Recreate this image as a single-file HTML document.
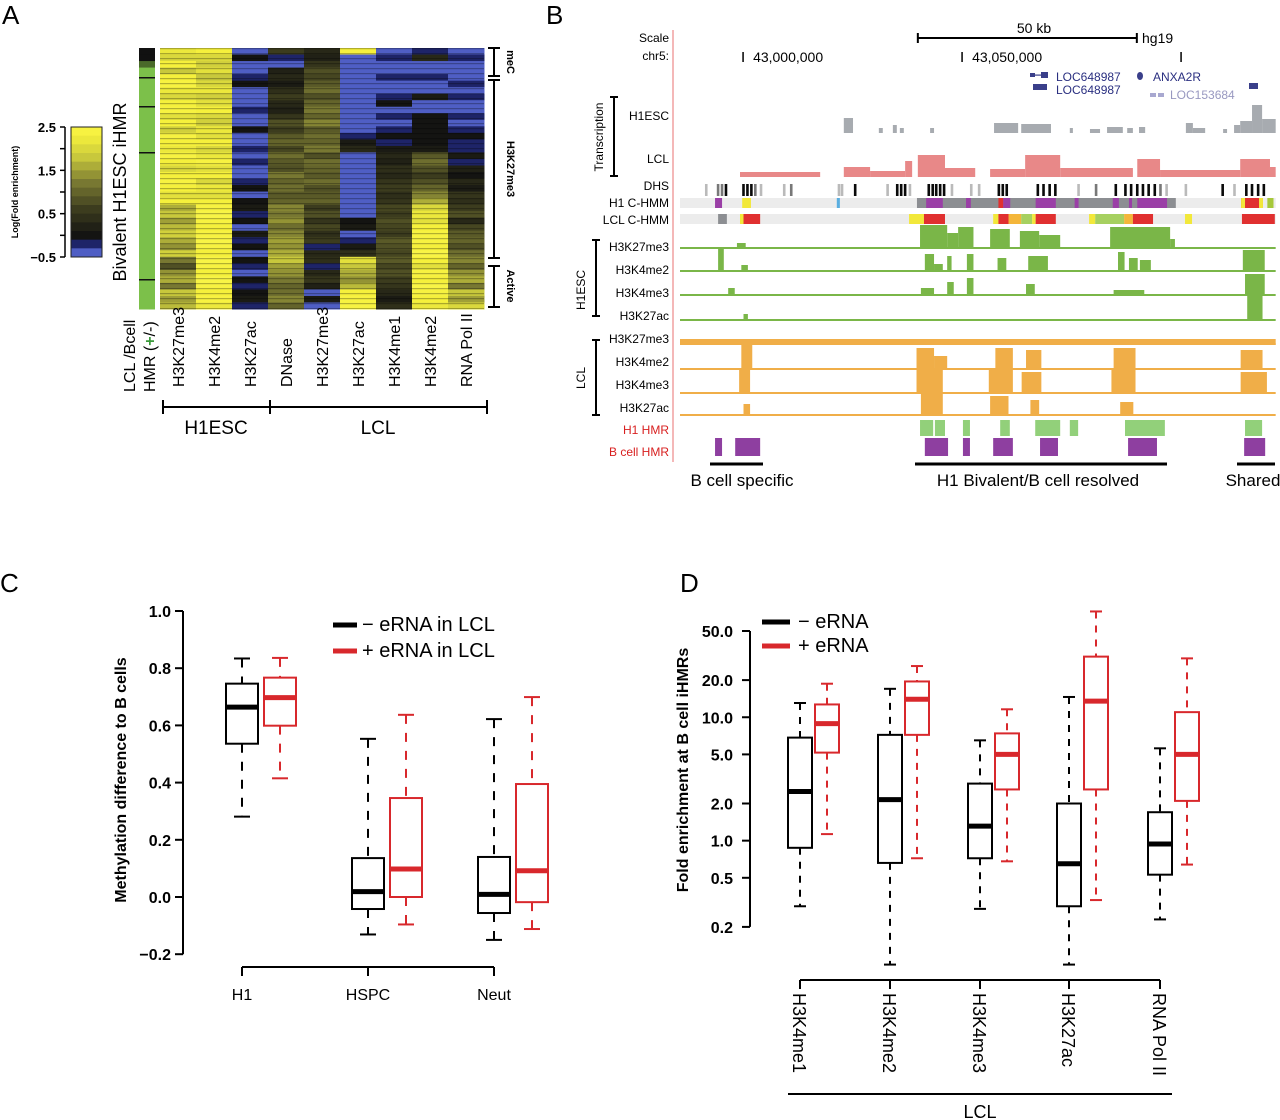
<!DOCTYPE html>
<html><head><meta charset="utf-8">
<style>
html,body{margin:0;padding:0;background:#fff;}
svg{display:block;font-family:"Liberation Sans",sans-serif;}
</style></head>
<body>
<svg id="fig" width="1280" height="1120" viewBox="0 0 1280 1120" xmlns="http://www.w3.org/2000/svg">
<rect width="1280" height="1120" fill="#fff"/>
<text x="2" y="24" font-size="26">A</text>
<text x="546" y="24" font-size="26">B</text>
<text x="0" y="592" font-size="26">C</text>
<text x="680" y="592" font-size="26">D</text>
<g id="pa"></g>
<g id="pb"></g>
<g id="pc"></g>
<g id="pd"></g>
</svg>
<script>
// ================= PANEL C DATA =================
const cCategories = ["H1","HSPC","Neut"];
const cNegWhiskLo = [0.281,-0.131,-0.150];
const cNegQ1      = [0.536,-0.042,-0.056];
const cNegMed     = [0.664,0.019,0.009];
const cNegQ3      = [0.746,0.136,0.140];
const cNegWhiskHi = [0.834,0.553,0.622];
const cPosWhiskLo = [0.415,-0.096,-0.112];
const cPosQ1      = [0.599,0.000,-0.018];
const cPosMed     = [0.697,0.098,0.092];
const cPosQ3      = [0.767,0.346,0.395];
const cPosWhiskHi = [0.836,0.637,0.699];
const cTicks = [1.0,0.8,0.6,0.4,0.2,0.0,-0.2];
const cTickLabels = ["1.0","0.8","0.6","0.4","0.2","0.0","\u22120.2"];

// ================= PANEL D DATA =================
const dCategories = ["H3K4me1","H3K4me2","H3K4me3","H3K27ac","RNA Pol II"];
const dNegWhiskLo = [0.294,0.099,0.28,0.099,0.23];
const dNegQ1      = [0.875,0.66,0.72,0.294,0.53];
const dNegMed     = [2.5,2.15,1.31,0.65,0.94];
const dNegQ3      = [6.84,7.2,2.9,2.0,1.7];
const dNegWhiskHi = [13.05,17.0,6.5,14.6,5.6];
const dPosWhiskLo = [1.13,0.72,0.68,0.33,0.64];
const dPosQ1      = [5.17,7.2,2.6,2.6,2.1];
const dPosMed     = [8.87,14.0,5.0,13.5,5.0];
const dPosQ3      = [12.7,19.5,7.4,31,11];
const dPosWhiskHi = [18.7,26,11.6,72,30];
const dTicks = [50,20,10,5,2,1,0.5,0.2];
const dTickLabels = ["50.0","20.0","10.0","5.0","2.0","1.0","0.5","0.2"];

// ================= PANEL A DATA =================
const aColumns = ["H3K27me3","H3K4me2","H3K27ac","DNase","H3K27me3","H3K27ac","H3K4me1","H3K4me2","RNA Pol II"];
const aCol0 = [2.2,2.0,2.3,1.8,2.3,2.4,2.2,2.0,2.3,2.4,2.1,2.3,1.9,2.4,2.3,2.2,2.4,2.3,2.0,2.3,2.4,2.3,2.1,2.3,1.6,1.8,1.5,1.7,1.9,1.6,1.4,1.9,1.2,0.8,1.4,1.6,1.2,1.8,1.5,1.7];
const aCol1 = [2.3,2.0,1.9,2.1,1.8,2.0,2.2,1.9,2.1,2.3,2.0,1.9,2.2,2.1,2.3,2.0,2.2,2.4,2.1,2.3,2.0,2.2,2.1,2.3,2.4,2.5,2.4,2.3,2.4,2.5,2.4,2.3,2.5,2.4,2.3,2.5,2.4,2.3,2.4,2.2];
const aCol2 = [-0.3,0,-0.3,-0.4,-0.2,0,-0.3,-0.4,-0.3,-0.1,-0.4,-0.3,0,-0.3,-0.4,-0.2,-0.3,-0.1,-0.4,-0.3,-0.2,0,-0.3,0,0.1,-0.2,0,-0.3,0.1,-0.2,0,-0.3,0,-0.1,-0.3,0,-0.2,0,0.1,-0.1];
const aCol3 = [0.6,-0.2,-0.3,0.2,0.3,0.1,0.4,0.6,0.3,0.2,0.5,0.8,0.6,0.9,1.0,0.7,1.1,0.9,0.8,1.2,1.0,1.1,0.9,1.0,1.3,1.2,1.4,1.1,1.3,1.5,1.4,1.6,1.8,1.5,1.4,1.2,1.0,1.1,1.3,1.0];
const aCol4 = [0.3,0.2,0.5,0.8,0.7,0.9,1.1,0.8,1.0,1.2,1.0,1.3,0.9,1.1,1.0,1.2,0.8,1.1,1.0,0.9,1.1,0.8,0.9,1.0,0.6,0.8,0.5,0.7,0.4,0.6,-0.2,0.3,0.4,-0.1,0.3,0.5,0.2,-0.3,0.1,-0.3];
const aCol5 = [2.3,-0.4,-0.4,-0.5,-0.4,-0.5,-0.4,-0.4,-0.5,-0.5,-0.4,-0.5,-0.4,-0.1,0.1,0.3,-0.4,-0.3,-0.4,-0.5,-0.4,-0.5,-0.4,-0.5,-0.4,-0.5,0.0,0.1,-0.3,-0.2,0.1,0.4,2.1,1.8,1.6,1.4,1.7,2.3,2.4,2.4];
const aCol6 = [-0.3,-0.2,-0.4,-0.3,-0.1,-0.3,-0.4,-0.2,0,-0.3,-0.1,-0.3,-0.2,0,-0.2,0.1,0.3,0.2,0.4,0.3,0.5,0.6,0.4,0.5,0.7,0.6,0.8,0.7,0.6,0.9,0.8,0.7,0.9,0.7,0.8,0.6,0.5,0.3,0.1,0.4];
const aCol7 = [-0.2,0.3,-0.5,-0.4,-0.1,-0.3,-0.4,0.1,-0.4,-0.3,0.0,0.0,0.0,0.0,0.0,0.1,0.9,1.1,0.8,0.6,0.8,1.0,1.3,1.6,2.0,2.2,2.1,2.3,2.4,2.4,2.3,2.5,2.3,2.1,2.4,2.3,2.5,2.4,2.3,2.2];
const aCol8 = [-0.3,-0.2,-0.4,-0.5,-0.3,-0.1,-0.3,-0.2,-0.4,-0.3,-0.1,-0.3,-0.2,0,-0.2,-0.1,0.1,-0.2,0.2,0,0.3,0.1,0.5,0.4,0.6,0.8,0.3,0.7,0.9,1.0,0.8,1.1,1.3,1.0,1.4,1.6,1.2,1.8,1.5,2.0];
const aHmr = [0,0,0.5,1,1,1,1,1,1,1,1,1,1,1,1,1,1,1,1,1,1,1,1,1,1,1,1,1,1,1,1,1,1,1,1,1,1,1,1,1];
const aLegendTicks = [2.5,1.5,0.5,-0.5];

// ================= PANEL B DATA (kb) =================
const bH1Tx = [[37.4,39.5,15],[45.4,46.3,5],[48.6,49.5,8],[50.2,51.1,5],[57.1,58.0,5],[71.7,77.2,10],[77.9,84.7,9],[89.0,89.7,5],[93.6,95.9,4],[97.5,101.1,6],[102.1,103.4,5],[104.8,106.2,6],[115.5,117.1,10],[117.1,119.9,5],[124,124.9,4],[126.5,127.9,8],[127.9,130.6,12],[130.6,132.9,28],[132.9,136,14]];
const bLclTx = [[13.7,32.0,5],[37.4,43.4,10],[43.4,51.4,6],[51.4,53,16],[54.3,60.5,22],[60.5,67.4,9],[70.8,78.8,8],[78.8,86.8,22],[86.8,103.4,9],[104.4,109.6,18],[109.6,127.9,7],[127.9,134.7,18],[134.7,136,10]];
const bDhsPos = [5.7,8.4,9.3,10.2,14.2,15.1,16.0,16.9,18.2,23.5,25.1,36.0,36.7,39.7,47.1,49.3,50.2,51.1,52.2,56.5,57.4,58.2,59.1,60.0,61.8,66.2,68.0,72.5,73.4,74.3,81.4,82.7,84.1,85.4,90.7,94.7,99.2,101.4,102.7,104.1,105.4,106.7,108.1,109.4,110.8,115.2,123.6,126.3,129,130.3,131.7,133];
const bDhsShade = [0.2,0.5,0.5,1,1,1,1,0.5,0.2,0.2,0.5,0.2,0.2,1,0.2,1,1,1,0.2,1,1,1,1,1,0.2,0.2,0.2,1,1,1,1,1,1,1,0.2,0.5,1,1,1,1,1,1,1,0.5,0.2,0.2,1,0.2,1,1,1,1];
const bH1Hmm = [[0,136,"#ececec"],[8.0,9.6,"#9a3fa6"],[14.2,16.2,"#f2e83a"],[35.8,36.5,"#5aaee0"],[54.1,113.2,"#8c8e92"],[56.2,60.0,"#9a3fa6"],[65.3,66.4,"#9a3fa6"],[72.7,73.8,"#e03030"],[73.8,75.4,"#9a3fa6"],[81.2,85.8,"#9a3fa6"],[90.1,91.0,"#9a3fa6"],[98.8,100.2,"#9a3fa6"],[102.5,103.2,"#9a3fa6"],[104.4,111.2,"#9a3fa6"],[128.1,133.1,"#e03030"],[128.1,129,"#f2e83a"],[132.2,133.1,"#f2e83a"],[134.1,135.5,"#a6c83a"]];
const bLclHmm = [[0,136,"#ececec"],[8.7,10.7,"#8c8e92"],[13.7,18.3,"#e03030"],[13.7,14.5,"#f2e83a"],[52.3,55.7,"#f2e83a"],[55.7,60.5,"#e03030"],[71.5,72.7,"#f2e83a"],[72.7,75.0,"#e03030"],[75.0,77.9,"#f4b63a"],[77.9,80.4,"#a6d060"],[80.4,81.2,"#f2e83a"],[81.2,85.8,"#e03030"],[93.4,94.8,"#f2e83a"],[94.8,101.4,"#a6d060"],[101.4,103.4,"#f4b63a"],[103.4,108.0,"#e03030"],[115.3,116.9,"#f2e83a"],[128.3,135.8,"#e03030"]];
const bGreenK27me3 = [[13,15,6],[54.8,61.0,24],[61,63.5,16],[63.5,67,22],[70.8,75.3,20],[77.6,82,18],[82,86.8,14],[98.2,111.9,22],[111.9,113,10]];
const bGreenK4me2 = [[8.7,10,24],[14,15.5,7],[55.9,58,18],[58,60,8],[61,62,16],[65.5,67,18],[72.5,74.5,14],[79.5,84,16],[100,101.5,20],[102.5,104.5,14],[105,107.5,12],[128.5,133.5,22]];
const bGreenK4me3 = [[11,12.5,8],[55,58,8],[61,62.5,14],[65.5,67,18],[79,81,12],[99,106,6],[129,133.5,22]];
const bGreenK27ac = [[14.5,15.5,7],[129.5,133,26]];
const bOrK27me3 = [[0,136,6]];
const bOrK4me2 = [[14,16.5,26],[54,58,22],[58,61,14],[72,76,22],[79,82.5,20],[99,104,22],[128,133,20]];
const bOrK4me3 = [[13.5,16,26],[54,60,24],[70.5,76,24],[78,82.5,22],[98.5,104,24],[128,134,22]];
const bOrK27ac = [[14.5,16,12],[55,60,22],[70.8,75,20],[80,82,16],[100.5,103.5,14]];
const bH1Hmr = [[54.8,57.8],[58.2,60.5],[64.6,66.2],[73.1,75.3],[81.1,86.8],[89,90.9],[101.6,110.7],[129,132.9]];
const bBHmr = [[8,9.6],[12.6,18.3],[55.9,61.2],[64.6,66.2],[71.5,76],[82.2,86.3],[102.3,108.9],[128.8,133.6]];

const NS="http://www.w3.org/2000/svg";
function mk(parent, tag, attrs, text){
  const e=document.createElementNS(NS,tag);
  for(const k in attrs) e.setAttribute(k,attrs[k]);
  if(text!==undefined) e.textContent=text;
  parent.appendChild(e);
  return e;
}

// ================= PANEL C =================
(function(){
  const g=document.getElementById('pc');
  const y0=897, perUnit=286;
  const yS=v=>y0-v*perUnit;
  const ax=183;
  const gx=[242,368,494];
  let l=mk(g,'line',{x1:ax,y1:yS(1.0),x2:ax,y2:yS(-0.2),stroke:'#000','stroke-width':2});
   
  cTicks.forEach((t,i)=>{
    let tk=mk(g,'line',{x1:ax-8,y1:yS(t),x2:ax,y2:yS(t),stroke:'#000','stroke-width':2});
     
    let tl=mk(g,'text',{x:ax-12,y:yS(t)+6,'font-size':16,'text-anchor':'end','font-weight':'bold'},cTickLabels[i]);
     
  });
  let yt=mk(g,'text',{x:0,y:0,'font-size':16,'font-weight':'bold','text-anchor':'middle',transform:'translate(126,780) rotate(-90)'},'Methylation difference to B cells');
   
  let bl=mk(g,'line',{x1:gx[0],y1:967,x2:gx[2],y2:967,stroke:'#000','stroke-width':2});
   
  cCategories.forEach((c,i)=>{
    let tk=mk(g,'line',{x1:gx[i],y1:967,x2:gx[i],y2:976,stroke:'#000','stroke-width':2});
     
    let tl=mk(g,'text',{x:gx[i],y:1000,'font-size':16,'text-anchor':'middle'},c);
     
  });
  function box(cx,lo,q1,med,q3,hi,col,name){
    const bw=32, cap=8;
    const bg=mk(g,'g',{});
     
    mk(bg,'line',{x1:cx,y1:yS(hi),x2:cx,y2:yS(q3),stroke:col,'stroke-width':2,'stroke-dasharray':'9,9'});
    mk(bg,'line',{x1:cx,y1:yS(q1),x2:cx,y2:yS(lo),stroke:col,'stroke-width':2,'stroke-dasharray':'9,9'});
    mk(bg,'line',{x1:cx-cap,y1:yS(hi),x2:cx+cap,y2:yS(hi),stroke:col,'stroke-width':2});
    mk(bg,'line',{x1:cx-cap,y1:yS(lo),x2:cx+cap,y2:yS(lo),stroke:col,'stroke-width':2});
    mk(bg,'rect',{x:cx-bw/2,y:yS(q3),width:bw,height:yS(q1)-yS(q3),fill:'none',stroke:col,'stroke-width':2});
    mk(bg,'line',{x1:cx-bw/2,y1:yS(med),x2:cx+bw/2,y2:yS(med),stroke:col,'stroke-width':5});
  }
  cCategories.forEach((c,i)=>{
    box(gx[i],cNegWhiskLo[i],cNegQ1[i],cNegMed[i],cNegQ3[i],cNegWhiskHi[i],'#000','c-box-neg-'+c.toLowerCase());
    box(gx[i]+38,cPosWhiskLo[i],cPosQ1[i],cPosMed[i],cPosQ3[i],cPosWhiskHi[i],'#d8282c','c-box-pos-'+c.toLowerCase());
  });
  const lg=mk(g,'g',{});
   
  mk(lg,'line',{x1:333,y1:625,x2:357,y2:625,stroke:'#000','stroke-width':5});
  mk(lg,'text',{x:362,y:631,'font-size':20},'\u2212 eRNA in LCL');
  mk(lg,'line',{x1:333,y1:651,x2:357,y2:651,stroke:'#d8282c','stroke-width':5});
  mk(lg,'text',{x:362,y:657,'font-size':20},'+ eRNA in LCL');
})();

// ================= PANEL D =================
(function(){
  const g=document.getElementById('pd');
  const yTop=631, perDec=123.4;
  const yS=v=>yTop+(Math.log10(50)-Math.log10(v))*perDec;
  const ax=750;
  const gx=[800,890,980,1069,1160];
  let l=mk(g,'line',{x1:ax,y1:yS(50),x2:ax,y2:yS(0.2),stroke:'#000','stroke-width':2});
   
  dTicks.forEach((t,i)=>{
    let tk=mk(g,'line',{x1:ax-8,y1:yS(t),x2:ax,y2:yS(t),stroke:'#000','stroke-width':2});
     
    let tl=mk(g,'text',{x:ax-17,y:yS(t)+6,'font-size':16,'text-anchor':'end','font-weight':'bold'},dTickLabels[i]);
     
  });
  let yt=mk(g,'text',{x:0,y:0,'font-size':16,'font-weight':'bold','text-anchor':'middle',transform:'translate(688,770) rotate(-90)'},'Fold enrichment  at  B cell iHMRs');
   
  let bl=mk(g,'line',{x1:gx[0],y1:980,x2:gx[4],y2:980,stroke:'#000','stroke-width':2});
   
  dCategories.forEach((c,i)=>{
    let tk=mk(g,'line',{x1:gx[i],y1:980,x2:gx[i],y2:989,stroke:'#000','stroke-width':2});
     
    let tl=mk(g,'text',{x:0,y:0,'font-size':18,transform:'translate('+(gx[i]-7)+',993) rotate(90)'},c);
     
  });
  let gl=mk(g,'line',{x1:788,y1:1094,x2:1172,y2:1094,stroke:'#000','stroke-width':2});
   
  let gt=mk(g,'text',{x:980,y:1118,'font-size':18,'text-anchor':'middle'},'LCL');
   
  function box(cx,lo,q1,med,q3,hi,col,name){
    const bw=24, cap=6;
    const bg=mk(g,'g',{});
     
    mk(bg,'line',{x1:cx,y1:yS(hi),x2:cx,y2:yS(q3),stroke:col,'stroke-width':2,'stroke-dasharray':'7,7'});
    mk(bg,'line',{x1:cx,y1:yS(q1),x2:cx,y2:yS(lo),stroke:col,'stroke-width':2,'stroke-dasharray':'7,7'});
    mk(bg,'line',{x1:cx-cap,y1:yS(hi),x2:cx+cap,y2:yS(hi),stroke:col,'stroke-width':2});
    mk(bg,'line',{x1:cx-cap,y1:yS(lo),x2:cx+cap,y2:yS(lo),stroke:col,'stroke-width':2});
    mk(bg,'rect',{x:cx-bw/2,y:yS(q3),width:bw,height:yS(q1)-yS(q3),fill:'none',stroke:col,'stroke-width':2});
    mk(bg,'line',{x1:cx-bw/2,y1:yS(med),x2:cx+bw/2,y2:yS(med),stroke:col,'stroke-width':5});
  }
  dCategories.forEach((c,i)=>{
    box(gx[i],dNegWhiskLo[i],dNegQ1[i],dNegMed[i],dNegQ3[i],dNegWhiskHi[i],'#000','d-box-neg');
    box(gx[i]+27,dPosWhiskLo[i],dPosQ1[i],dPosMed[i],dPosQ3[i],dPosWhiskHi[i],'#d8282c','d-box-pos');
  });
  const lg=mk(g,'g',{});
   
  mk(lg,'line',{x1:762,y1:622,x2:790,y2:622,stroke:'#000','stroke-width':5});
  mk(lg,'text',{x:798,y:628,'font-size':20},'\u2212 eRNA');
  mk(lg,'line',{x1:762,y1:646,x2:790,y2:646,stroke:'#d8282c','stroke-width':5});
  mk(lg,'text',{x:798,y:652,'font-size':20},'+ eRNA');
})();

// ================= PANEL A =================
(function(){
  const g=document.getElementById('pa');
  function color(v){
    if(v<=-0.3) return '#4f5ec4';
    if(v<0) return '#1e2468';
    const stops=[[0,[20,20,18]],[0.6,[60,60,30]],[1.2,[120,120,50]],[1.8,[200,200,60]],[2.3,[245,240,60]],[2.5,[248,244,70]]];
    for(let i=1;i<stops.length;i++){
      if(v<=stops[i][0]){
        const a=stops[i-1],b=stops[i],t=(v-a[0])/(b[0]-a[0]);
        const c=a[1].map((x,j)=>Math.round(x+(b[1][j]-x)*t));
        return 'rgb('+c.join(',')+')';
      }
    }
    return 'rgb(248,244,70)';
  }
  const top=48, bot=309, x0=160, cw=36;
  const cols=[aCol0,aCol1,aCol2,aCol3,aCol4,aCol5,aCol6,aCol7,aCol8];
  cols.forEach((arr,ci)=>{
    const rh=(bot-top)/arr.length;
    const cg=mk(g,'g',{});
    
    
    arr.forEach((v,ri)=>{
      mk(cg,'rect',{x:x0+ci*cw,y:top+ri*rh,width:cw+0.5,height:rh+0.5,fill:color(v)});
    });
  });
  const defs=mk(g,'defs',{});
  const pat=mk(defs,'pattern',{id:'stripes',width:4,height:5,patternUnits:'userSpaceOnUse'});
  mk(pat,'rect',{x:0,y:3,width:4,height:1.2,fill:'rgba(0,0,0,0.28)'});
  mk(g,'rect',{x:x0,y:top,width:cw*9,height:bot-top,fill:'url(#stripes)'});
  const hg=mk(g,'g',{});
   
  const rh=(bot-top)/aHmr.length;
  aHmr.forEach((v,ri)=>{
    mk(hg,'rect',{x:139,y:top+ri*rh,width:16,height:rh+0.5,fill:v>=1?'#7cc04a':(v>0?'#4a6a2a':'#111')});
  });
  [77,106,152,279].forEach(y=>mk(hg,'rect',{x:139,y:y,width:16,height:1.5,fill:'#111'}));
  const lg=mk(g,'g',{});
   
  const lt=127, lb=257;
  const steps=[2.4,2.2,2.0,1.8,1.6,1.4,1.2,1.0,0.8,0.6,0.4,0.2,0.0,-0.1,-0.4];
  const sh=(lb-lt)/steps.length;
  steps.forEach((v,i)=>mk(lg,'rect',{x:71,y:lt+i*sh,width:31,height:sh+0.5,fill:color(v)}));
  mk(lg,'rect',{x:71,y:lt,width:31,height:lb-lt,fill:'none',stroke:'#222','stroke-width':1});
  mk(lg,'line',{x1:65,y1:lt,x2:65,y2:lb,stroke:'#000','stroke-width':1.5});
  for(let i=0;i<=6;i++){ const y=lt+(lb-lt)*i/6; mk(lg,'line',{x1:60,y1:y,x2:65,y2:y,stroke:'#000','stroke-width':1.5}); }
  const lyS=v=>lt+(2.5-v)/3*(lb-lt);
  aLegendTicks.forEach(t=>{
    let tl=mk(lg,'text',{x:56,y:lyS(t)+5,'font-size':13,'font-weight':'bold','text-anchor':'end'},t<0?'\u2212'+Math.abs(t):t.toFixed(1));
     
  });
  let ltt=mk(lg,'text',{x:0,y:0,'font-size':9,'font-weight':'bold','text-anchor':'middle',transform:'translate(18,192) rotate(-90)'},'Log(Fold enrichment)');
   
  let bt=mk(g,'text',{x:0,y:0,'font-size':18,'text-anchor':'middle',transform:'translate(126,192) rotate(-90)'},'Bivalent  H1ESC  iHMR');
   
  const br=[[48,76,'meC',62],[80,258,'H3K27me3',169],[266,307,'Active',286]];
  br.forEach(b=>{
    const bg=mk(g,'g',{});
     
    mk(bg,'line',{x1:494,y1:b[0],x2:494,y2:b[1],stroke:'#000','stroke-width':2});
    mk(bg,'line',{x1:488,y1:b[0],x2:500,y2:b[0],stroke:'#000','stroke-width':2});
    mk(bg,'line',{x1:488,y1:b[1],x2:500,y2:b[1],stroke:'#000','stroke-width':2});
    mk(bg,'text',{x:0,y:0,'font-size':11,'font-weight':'bold','text-anchor':'middle',transform:'translate(507,'+b[3]+') rotate(90)'},b[2]);
  });
  const cl=mk(g,'g',{});
   
  mk(cl,'text',{x:0,y:0,'font-size':16,transform:'translate(135,392) rotate(-90)'},'LCL /Bcell');
  const t2=mk(cl,'text',{x:0,y:0,'font-size':16,transform:'translate(155,392) rotate(-90)'},'HMR (');
  mk(t2,'tspan',{fill:'#3a9a3a','font-weight':'bold'},'+');
  mk(t2,'tspan',{},'/-)');
  aColumns.forEach((c,i)=>{
    mk(cl,'text',{x:0,y:0,'font-size':16,transform:'translate('+(x0+i*cw+24)+',387) rotate(-90)'},c);
  });
  const bk=mk(g,'g',{});
   
  mk(bk,'line',{x1:163,y1:407,x2:487,y2:407,stroke:'#000','stroke-width':2});
  [163,270,487].forEach(x=>mk(bk,'line',{x1:x,y1:400,x2:x,y2:414,stroke:'#000','stroke-width':2}));
  mk(bk,'text',{x:216,y:434,'font-size':19,'text-anchor':'middle'},'H1ESC');
  mk(bk,'text',{x:378,y:434,'font-size':19,'text-anchor':'middle'},'LCL');
})();

// ================= PANEL B =================
(function(){
  const g=document.getElementById('pb');
  const pxPerKb=4.38, x0=680;
  const xS=kb=>x0+kb*pxPerKb;
  mk(g,'line',{x1:673,y1:30,x2:673,y2:462,stroke:'#f0a0a0','stroke-width':1.5});
  const labels=[['Scale',42],['chr5:',60],['H1ESC',120],['LCL',163],['DHS',190],['H1 C-HMM',207],['LCL C-HMM',224],
    ['H3K27me3',251],['H3K4me2',274],['H3K4me3',297],['H3K27ac',320],['H3K27me3',343],['H3K4me2',366],['H3K4me3',389],['H3K27ac',412]];
  labels.forEach(l=>{
    let t=mk(g,'text',{x:669,y:l[1],'font-size':12,'text-anchor':'end'},l[0]);
     
  });
  let t1=mk(g,'text',{x:669,y:434,'font-size':12,'text-anchor':'end',fill:'#d82020'},'H1 HMR');
   
  let t2=mk(g,'text',{x:669,y:456,'font-size':12,'text-anchor':'end',fill:'#d82020'},'B cell HMR');
   
  function sideBr(x,y1,y2,label,cy){
    const bg=mk(g,'g',{});
     
    mk(bg,'line',{x1:x,y1:y1,x2:x,y2:y2,stroke:'#000','stroke-width':2});
    mk(bg,'line',{x1:x-4,y1:y1,x2:x+4,y2:y1,stroke:'#000','stroke-width':2});
    mk(bg,'line',{x1:x-4,y1:y2,x2:x+4,y2:y2,stroke:'#000','stroke-width':2});
    mk(bg,'text',{x:0,y:0,'font-size':12,'text-anchor':'middle',transform:'translate('+(x-11)+','+cy+') rotate(-90)'},label);
  }
  sideBr(614,97,176,'Transcription',137);
  sideBr(596,240,316,'H1ESC',290);
  sideBr(596,340,415,'LCL',378);
  const sb=mk(g,'g',{});
   
  mk(sb,'line',{x1:xS(54.3),y1:38,x2:xS(54.3)+50*pxPerKb,y2:38,stroke:'#000','stroke-width':2});
  mk(sb,'line',{x1:xS(54.3),y1:33,x2:xS(54.3),y2:43,stroke:'#000','stroke-width':2});
  mk(sb,'line',{x1:xS(54.3)+50*pxPerKb,y1:33,x2:xS(54.3)+50*pxPerKb,y2:43,stroke:'#000','stroke-width':2});
  mk(sb,'text',{x:1034,y:33,'font-size':14,'text-anchor':'middle'},'50 kb');
  mk(sb,'text',{x:1142,y:43,'font-size':14},'hg19');
  const coord=mk(g,'g',{});
   
  [[14.4,'43,000,000'],[64.4,'43,050,000'],[114.4,'']].forEach(c=>{
    mk(coord,'line',{x1:xS(c[0]),y1:52,x2:xS(c[0]),y2:62,stroke:'#000','stroke-width':1.5});
    if(c[1]) mk(coord,'text',{x:xS(c[0])+10,y:62,'font-size':14},c[1]);
  });
  const gn=mk(g,'g',{});
   
  mk(gn,'rect',{x:1030,y:73,width:5,height:4,fill:'#3a3f8a'});
  mk(gn,'rect',{x:1035,y:74.5,width:6,height:1.2,fill:'#3a3f8a'});
  mk(gn,'rect',{x:1041,y:72,width:7,height:6,fill:'#3a3f8a'});
  mk(gn,'text',{x:1056,y:81,'font-size':12,fill:'#2a2f80'},'LOC648987');
  mk(gn,'rect',{x:1033,y:84,width:14,height:6,fill:'#3a3f8a'});
  mk(gn,'text',{x:1056,y:94,'font-size':12,fill:'#2a2f80'},'LOC648987');
  mk(gn,'ellipse',{cx:1140,cy:76,rx:3,ry:4,fill:'#3a3f8a'});
  mk(gn,'text',{x:1153,y:81,'font-size':12,fill:'#2a2f80'},'ANXA2R');
  mk(gn,'rect',{x:1150,y:93,width:6,height:4,fill:'#a8a8d0'});
  mk(gn,'rect',{x:1158,y:93,width:6,height:4,fill:'#a8a8d0'});
  mk(gn,'text',{x:1170,y:99,'font-size':12,fill:'#9898c0'},'LOC153684');
  mk(gn,'rect',{x:1249,y:83,width:9,height:6,fill:'#3a3f8a'});
  const h1t=mk(g,'g',{});
   
  bH1Tx.forEach(d=>mk(h1t,'rect',{x:xS(d[0]),y:133-d[2],width:(d[1]-d[0])*pxPerKb,height:d[2],fill:'#a7abb0'}));
  const lt=mk(g,'g',{});
   
  bLclTx.forEach(d=>mk(lt,'rect',{x:xS(d[0]),y:177-d[2],width:(d[1]-d[0])*pxPerKb,height:d[2],fill:'#e88888'}));
  const dh=mk(g,'g',{});
   
  bDhsPos.forEach((p,i)=>{
    const s=bDhsShade[i]; const c=Math.round(230-220*s);
    mk(dh,'rect',{x:xS(p),y:184,width:2.6,height:12,fill:'rgb('+c+','+c+','+c+')'});
  });
  function hmm(arr,y,name){
    const hg=mk(g,'g',{});
     
    arr.forEach(d=>mk(hg,'rect',{x:xS(d[0]),y:y,width:(d[1]-d[0])*pxPerKb,height:10,fill:d[2]}));
  }
  hmm(bH1Hmm,198,'h1-chromhmm-track');
  hmm(bLclHmm,214,'lcl-chromhmm-track');
  function sig(arr,base,col,name){
    const sg=mk(g,'g',{});
     
    mk(sg,'rect',{x:xS(0),y:base-2,width:136*pxPerKb,height:2,fill:col});
    arr.forEach(d=>mk(sg,'rect',{x:xS(d[0]),y:base-d[2],width:(d[1]-d[0])*pxPerKb,height:d[2],fill:col}));
  }
  const GR='#7ab648', OR='#f0ae48';
  sig(bGreenK27me3,249,GR,'h1-h3k27me3-track');
  sig(bGreenK4me2,272,GR,'h1-h3k4me2-track');
  sig(bGreenK4me3,296,GR,'h1-h3k4me3-track');
  sig(bGreenK27ac,321,GR,'h1-h3k27ac-track');
  sig(bOrK27me3,345,OR,'lcl-h3k27me3-track');
  sig(bOrK4me2,370,OR,'lcl-h3k4me2-track');
  sig(bOrK4me3,394,OR,'lcl-h3k4me3-track');
  sig(bOrK27ac,416,OR,'lcl-h3k27ac-track');
  const hm1=mk(g,'g',{});
   
  bH1Hmr.forEach(d=>mk(hm1,'rect',{x:xS(d[0]),y:420,width:(d[1]-d[0])*pxPerKb,height:16,fill:'#92d07a'}));
  const hm2=mk(g,'g',{});
   
  bBHmr.forEach(d=>mk(hm2,'rect',{x:xS(d[0]),y:438,width:(d[1]-d[0])*pxPerKb,height:18,fill:'#8e3fa0'}));
  const an=mk(g,'g',{});
   
  [[710,763,742,'B cell specific'],[915,1167,1038,'H1 Bivalent/B cell resolved'],[1237,1275,1253,'Shared']].forEach(a=>{
    mk(an,'line',{x1:a[0],y1:464,x2:a[1],y2:464,stroke:'#000','stroke-width':3});
    mk(an,'text',{x:a[2],y:486,'font-size':17,'text-anchor':'middle'},a[3]);
  });
})();
</script>
</body></html>
